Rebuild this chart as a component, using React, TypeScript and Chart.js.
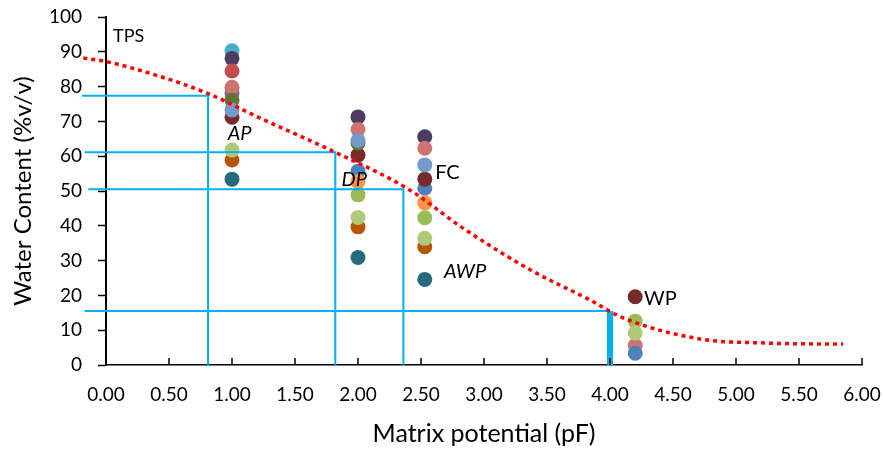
import React, { useEffect, useRef } from "react";
import { Chart, registerables } from "chart.js";
Chart.register(...registerables);

// x positions of the four measurement groups (pF)
const groupX = [1.0, 2.0, 2.53, 4.2];

// water content per sample at each pF (null = hidden / absent)
const aqua = [90.3, null, null, null];
const darkPurple = [88.1, 71.3, 65.6, null];
const purple = [78.0, null, null, null];
const red = [84.5, null, null, null];
const salmon = [79.8, 67.7, 62.3, 5.6];
const blue = [null, 55.7, 50.8, 3.4];
const darkRed = [71.2, 60.3, 53.4, 19.6];
const olive = [76.1, 63.8, null, null];
const lightBlue = [73.3, 64.5, 57.5, null];
const orange = [null, 52.7, 46.6, null];
const green = [null, 48.9, 42.3, 12.6];
const orangeBrown = [58.9, 39.7, 34.0, null];
const lightGreen = [61.8, 42.4, 36.4, 9.2];
const darkTeal = [53.4, 30.9, 24.6, null];

const seriesValues = [aqua, darkPurple, purple, red, salmon, blue, darkRed, olive, lightBlue, orange, green, orangeBrown, lightGreen, darkTeal];
const seriesColors = ["#4BACC6", "#4D3B62", "#8064A2", "#C0504D", "#CD7371", "#4F81BD", "#772C2A", "#5F7530", "#729ACA", "#F79646", "#9BBB59", "#B65708", "#AFC97A", "#276A7C"];

// retention curve (red dotted)
const curveX = [-0.18, 0.0, 0.43, 0.81, 1.22, 1.78, 2.41, 2.83, 3.37, 3.84, 4.1, 4.71, 5.25, 5.85];
const curveY = [88.2, 87.2, 82.9, 78.0, 71.0, 61.8, 50.3, 39.4, 27.3, 18.7, 13.6, 7.5, 6.3, 6.0];

// guide lines (blue)
const guideStartX = [-0.19, -0.17, -0.14, -0.17];
const guideX = [0.81, 1.82, 2.36, 4.0];
const guideY = [77.4, 61.1, 50.5, 15.5];

// annotations
const noteText = ["TPS", "AP", "DP", "FC", "AWP", "WP"];
const noteX = [0.18, 1.06, 1.97, 2.71, 2.85, 4.4];
const noteY = [94.5, 66.4, 53.2, 55.3, 26.9, 19.1];
const noteItalic = [false, true, true, false, true, false];
const noteSize = [18, 20, 20, 20, 20, 20];

const FONT = "Lato, 'Open Sans', sans-serif";

export default function App() {
  const ref = useRef<HTMLCanvasElement | null>(null);
  useEffect(() => {
    document.body.style.margin = "0";
    const canvas = ref.current;
    if (!canvas) return;

    const datasets: any[] = [];
    datasets.push({
      type: "line",
      data: curveX.map((x, i) => ({ x, y: curveY[i] })),
      borderColor: "#FF0000",
      borderWidth: 3.5,
      borderDash: [4, 4],
      pointRadius: 0,
      showLine: true,
      fill: false,
      cubicInterpolationMode: "monotone",
      clip: false,
      order: 0,
    });
    guideX.forEach((gx, i) => {
      const last = i === guideX.length - 1;
      datasets.push({
        type: "line",
        data: last
          ? [{ x: guideStartX[i], y: guideY[i] }, { x: gx, y: guideY[i] }]
          : [{ x: guideStartX[i], y: guideY[i] }, { x: gx, y: guideY[i] }, { x: gx, y: 0 }],
        borderColor: "#00B0F0",
        borderWidth: 2,
        pointRadius: 0,
        showLine: true,
        fill: false,
        tension: 0,
        clip: false,
        order: 1,
      });
      if (last) {
        datasets.push({
          type: "line",
          data: [{ x: gx, y: guideY[i] }, { x: gx, y: 0 }],
          borderColor: "#00B0F0",
          borderWidth: 6,
          pointRadius: 0,
          showLine: true,
          fill: false,
          clip: false,
          order: 1,
        });
      }
    });
    seriesValues.forEach((vals, i) => {
      const pts: any[] = [];
      vals.forEach((v, j) => {
        if (v !== null) pts.push({ x: groupX[j], y: v });
      });
      datasets.push({
        type: "scatter",
        data: pts,
        backgroundColor: seriesColors[i],
        borderColor: seriesColors[i],
        borderWidth: 0,
        pointRadius: 7.5,
        showLine: false,
        order: 100 - i,
      });
    });

    const xTickPlugin = {
      id: "xInnerTicks",
      afterDraw(chart: any) {
        const { ctx, scales } = chart;
        const xs = scales.x;
        ctx.save();
        ctx.strokeStyle = "#000";
        ctx.lineWidth = 1.5;
        xs.ticks.forEach((t: any) => {
          const px = xs.getPixelForValue(t.value);
          ctx.beginPath();
          ctx.moveTo(px, xs.top);
          ctx.lineTo(px, xs.top - 7);
          ctx.stroke();
        });
        ctx.restore();
      },
    };

    const notePlugin = {
      id: "notes",
      afterDatasetsDraw(chart: any) {
        const { ctx, scales } = chart;
        ctx.save();
        ctx.fillStyle = "#000";
        ctx.textAlign = "center";
        ctx.textBaseline = "middle";
        noteText.forEach((t, i) => {
          ctx.font = `${noteItalic[i] ? "italic " : ""}${noteSize[i]}px ${FONT}`;
          ctx.fillText(t, scales.x.getPixelForValue(noteX[i]), scales.y.getPixelForValue(noteY[i]));
        });
        ctx.restore();
      },
    };

    const zeroPad = (s: any) => {
      s.paddingTop = 0;
      s.paddingBottom = 0;
      s.paddingLeft = 0;
      s.paddingRight = 0;
    };

    const chart = new Chart(canvas, {
      type: "scatter",
      data: { datasets },
      options: {
        animation: false,
        responsive: true,
        maintainAspectRatio: false,
        layout: { autoPadding: false, padding: { top: 17, right: 21, left: 0, bottom: 0 } },
        plugins: { legend: { display: false }, tooltip: { enabled: false } },
        scales: {
          x: {
            type: "linear",
            min: 0,
            max: 6,
            afterFit: (s: any) => {
              s.height = 86;
              zeroPad(s);
            },
            ticks: {
              stepSize: 0.5,
              callback: (v: any) => Number(v).toFixed(2),
              color: "#000",
              font: { family: FONT, size: 19 },
              padding: 18,
              maxRotation: 0,
              autoSkip: false,
            },
            grid: { display: true, drawOnChartArea: false, drawTicks: false },
            border: { color: "#000", width: 1.5 },
            title: {
              display: true,
              text: "Matrix potential (pF)",
              color: "#000",
              font: { family: FONT, size: 25 },
              padding: { top: 0, bottom: 2 },
            },
          },
          y: {
            min: 0,
            max: 100,
            afterFit: (s: any) => {
              s.width = 106;
              zeroPad(s);
            },
            ticks: {
              stepSize: 10,
              color: "#000",
              font: { family: FONT, size: 19 },
              padding: 16,
            },
            grid: { display: true, drawOnChartArea: false, drawTicks: true, tickLength: 8, color: "#000", tickWidth: 1.5 },
            border: { color: "#000", width: 2 },
            title: {
              display: true,
              text: "Water Content (%v/v)",
              color: "#000",
              font: { family: FONT, size: 24 },
              padding: { top: 9, bottom: 0 },
            },
          },
        },
      },
      plugins: [xTickPlugin, notePlugin],
    } as any);
    return () => chart.destroy();
  }, []);

  return (
    <div style={{ width: 883, height: 451, position: "relative" }}>
      <canvas ref={ref} />
    </div>
  );
}
